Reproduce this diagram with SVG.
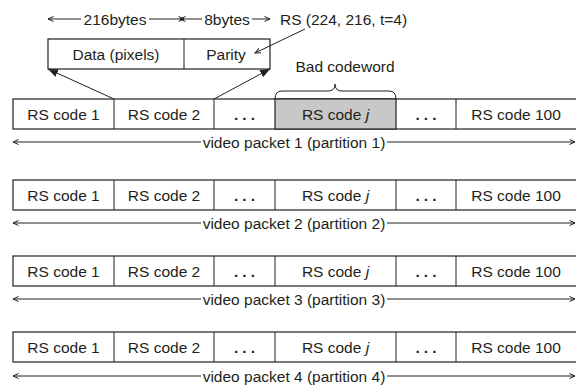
<svg xmlns="http://www.w3.org/2000/svg" width="576" height="385" viewBox="0 0 576 385">
<style>
text{font-family:"Liberation Sans",Arial,sans-serif;font-size:15.5px;fill:#231f20}
.c{text-anchor:middle}
.box{fill:#fff;stroke:#231f20;stroke-width:1.2}
.bad{fill:#c8c8c8;stroke:#231f20;stroke-width:1.2}
.ln{fill:none;stroke:#231f20;stroke-width:1}
.dots{font-weight:bold;letter-spacing:4px}
</style>
<defs>
<marker id="open" markerWidth="8" markerHeight="8" refX="6" refY="3" orient="auto-start-reverse" markerUnits="userSpaceOnUse">
<path d="M0.5,0.5 L6,3 L0.5,5.5" fill="none" stroke="#231f20" stroke-width="1"/>
</marker>
<marker id="fill" markerWidth="12" markerHeight="10" refX="10" refY="4" orient="auto" markerUnits="userSpaceOnUse">
<path d="M0,0 L10,4 L0,8 Z" fill="#231f20"/>
</marker>
</defs>

<g id="top-dims">
<line class="ln" x1="48" y1="19" x2="81" y2="19" marker-start="url(#open)"/>
<text class="c" x="115" y="24.5">216bytes</text>
<line class="ln" x1="149" y1="19" x2="184" y2="19" marker-end="url(#open)"/>
<line class="ln" x1="180" y1="19" x2="202" y2="19" marker-start="url(#open)"/>
<text class="c" x="227" y="24.5">8bytes</text>
<line class="ln" x1="252" y1="19" x2="270" y2="19" marker-end="url(#open)"/>
<text x="280" y="24.5">RS (224, 216, t=4)</text>
</g>

<g id="codeword">
<rect class="box" x="48" y="39" width="222" height="30"/>
<line class="ln" x1="184" y1="39" x2="184" y2="69" stroke-width="1.2"/>
<text class="c" x="116" y="59.5">Data (pixels)</text>
<text class="c" x="226" y="59.5">Parity</text>
</g>

<g id="bad-label">
<text class="c" x="345" y="72">Bad codeword</text>
<path class="ln" d="M275,99 Q275,91 282,91 L328,91 Q335,91 335,84 Q335,91 342,91 L389,91 Q396,91 396,99"/>
</g>

<g id="row1">
<rect class="box" x="13" y="99" width="570" height="30"/>
<rect class="bad" x="275" y="99" width="121" height="30"/>
<path class="ln" stroke-width="1.2" d="M114,99V129M214,99V129M456,99V129"/>
<text class="c" x="63.5" y="120">RS code 1</text>
<text class="c" x="164" y="120">RS code 2</text>
<text class="c dots" x="246.5" y="120">...</text>
<text class="c" x="335.5" y="120">RS code <tspan font-style="italic">j</tspan></text>
<text class="c dots" x="428" y="120">...</text>
<text class="c" x="516" y="120">RS code 100</text>
</g>

<g id="row2">
<rect class="box" x="13" y="180" width="570" height="30"/>
<path class="ln" stroke-width="1.2" d="M114,180V210M214,180V210M275,180V210M396,180V210M456,180V210"/>
<text class="c" x="63.5" y="201">RS code 1</text>
<text class="c" x="164" y="201">RS code 2</text>
<text class="c dots" x="246.5" y="201">...</text>
<text class="c" x="335.5" y="201">RS code <tspan font-style="italic">j</tspan></text>
<text class="c dots" x="428" y="201">...</text>
<text class="c" x="516" y="201">RS code 100</text>
</g>

<g id="row3">
<rect class="box" x="13" y="256" width="570" height="30"/>
<path class="ln" stroke-width="1.2" d="M114,256V286M214,256V286M275,256V286M396,256V286M456,256V286"/>
<text class="c" x="63.5" y="277">RS code 1</text>
<text class="c" x="164" y="277">RS code 2</text>
<text class="c dots" x="246.5" y="277">...</text>
<text class="c" x="335.5" y="277">RS code <tspan font-style="italic">j</tspan></text>
<text class="c dots" x="428" y="277">...</text>
<text class="c" x="516" y="277">RS code 100</text>
</g>

<g id="row4">
<rect class="box" x="13" y="332" width="570" height="30"/>
<path class="ln" stroke-width="1.2" d="M114,332V362M214,332V362M275,332V362M396,332V362M456,332V362"/>
<text class="c" x="63.5" y="353">RS code 1</text>
<text class="c" x="164" y="353">RS code 2</text>
<text class="c dots" x="246.5" y="353">...</text>
<text class="c" x="335.5" y="353">RS code <tspan font-style="italic">j</tspan></text>
<text class="c dots" x="428" y="353">...</text>
<text class="c" x="516" y="353">RS code 100</text>
</g>

<g id="packet-labels">
<text class="c" x="294" y="147.5">video packet 1 (partition 1)</text>
<text class="c" x="294" y="228.5">video packet 2 (partition 2)</text>
<text class="c" x="294" y="304.5">video packet 3 (partition 3)</text>
<text class="c" x="294" y="381.5">video packet 4 (partition 4)</text>
</g>

<g id="connectors">
<line class="ln" x1="114" y1="99" x2="48" y2="69" marker-end="url(#fill)"/>
<line class="ln" x1="214" y1="99" x2="270" y2="69" marker-end="url(#fill)"/>
<line class="ln" x1="305" y1="29" x2="255" y2="53" marker-end="url(#open)"/>
<line class="ln" x1="13" y1="142" x2="201" y2="142" marker-start="url(#open)"/>
<line class="ln" x1="387" y1="142" x2="575" y2="142" marker-end="url(#open)"/>
<line class="ln" x1="13" y1="223" x2="201" y2="223" marker-start="url(#open)"/>
<line class="ln" x1="387" y1="223" x2="575" y2="223" marker-end="url(#open)"/>
<line class="ln" x1="13" y1="299" x2="201" y2="299" marker-start="url(#open)"/>
<line class="ln" x1="387" y1="299" x2="575" y2="299" marker-end="url(#open)"/>
<line class="ln" x1="13" y1="376" x2="201" y2="376" marker-start="url(#open)"/>
<line class="ln" x1="387" y1="376" x2="575" y2="376" marker-end="url(#open)"/>
</g>
</svg>
